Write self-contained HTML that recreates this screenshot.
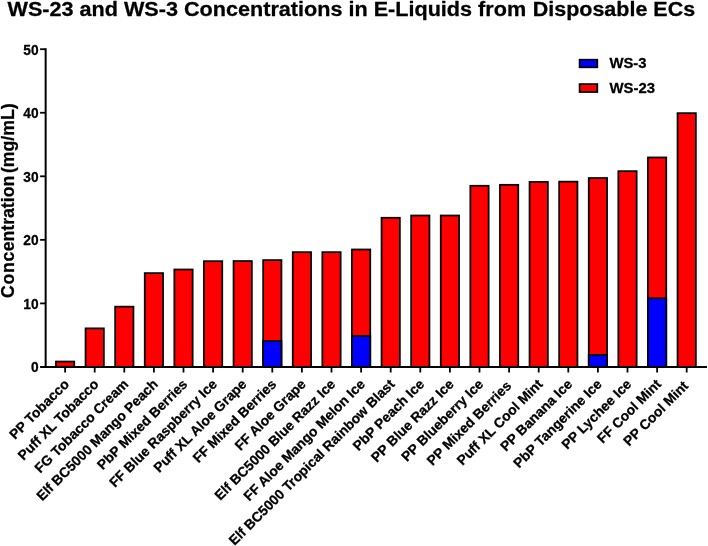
<!DOCTYPE html>
<html><head><meta charset="utf-8"><title>WS-23 and WS-3 Concentrations</title>
<style>html,body{margin:0;padding:0;background:#fff;}body{width:708px;height:546px;overflow:hidden;}svg{display:block;will-change:transform;}text{font-family:"Liberation Sans",sans-serif;font-weight:bold;fill:#000;stroke:#000;stroke-width:0.28px;stroke-linejoin:round;}</style></head><body>
<svg width="708" height="546" viewBox="0 0 708 546">
<rect x="0" y="0" width="708" height="546" fill="#fff"/>
<text x="7.5" y="15.8" font-size="21.1" textLength="518.61" lengthAdjust="spacingAndGlyphs">WS-23 and WS-3 Concentrations in E-Liquids from</text>
<text x="532.71" y="15.8" font-size="21.1" textLength="162.4" lengthAdjust="spacingAndGlyphs">Disposable ECs</text>
<text transform="translate(13.9,298) rotate(-90) scale(0.9716,1)" font-size="18.2" dx="0 0.82 0.62 0.72 0.31">Concentration</text>
<text transform="translate(13.9,173.1) rotate(-90) scale(0.9716,1)" font-size="18.2">(mg/mL)</text>
<rect x="55.95" y="361.53" width="18.3" height="5.27" fill="#ff0000" stroke="#000" stroke-width="1.75"/>
<rect x="85.55" y="328.37" width="18.3" height="38.43" fill="#ff0000" stroke="#000" stroke-width="1.75"/>
<rect x="115.15" y="306.65" width="18.3" height="60.15" fill="#ff0000" stroke="#000" stroke-width="1.75"/>
<rect x="144.75" y="273.11" width="18.3" height="93.69" fill="#ff0000" stroke="#000" stroke-width="1.75"/>
<rect x="174.35" y="269.49" width="18.3" height="97.31" fill="#ff0000" stroke="#000" stroke-width="1.75"/>
<rect x="203.95" y="261.17" width="18.3" height="105.63" fill="#ff0000" stroke="#000" stroke-width="1.75"/>
<rect x="233.55" y="261.04" width="18.3" height="105.76" fill="#ff0000" stroke="#000" stroke-width="1.75"/>
<rect x="263.15" y="260.09" width="18.3" height="106.71" fill="#ff0000" stroke="#000" stroke-width="1.75"/>
<rect x="263.15" y="341.01" width="18.3" height="25.79" fill="#0000ff" stroke="#000" stroke-width="1.75"/>
<rect x="292.75" y="252.15" width="18.3" height="114.65" fill="#ff0000" stroke="#000" stroke-width="1.75"/>
<rect x="322.35" y="252.15" width="18.3" height="114.65" fill="#ff0000" stroke="#000" stroke-width="1.75"/>
<rect x="351.95" y="249.48" width="18.3" height="117.32" fill="#ff0000" stroke="#000" stroke-width="1.75"/>
<rect x="351.95" y="335.93" width="18.3" height="30.87" fill="#0000ff" stroke="#000" stroke-width="1.75"/>
<rect x="381.55" y="217.78" width="18.3" height="149.02" fill="#ff0000" stroke="#000" stroke-width="1.75"/>
<rect x="411.15" y="215.5" width="18.3" height="151.3" fill="#ff0000" stroke="#000" stroke-width="1.75"/>
<rect x="440.75" y="215.5" width="18.3" height="151.3" fill="#ff0000" stroke="#000" stroke-width="1.75"/>
<rect x="470.35" y="185.77" width="18.3" height="181.03" fill="#ff0000" stroke="#000" stroke-width="1.75"/>
<rect x="499.95" y="184.82" width="18.3" height="181.98" fill="#ff0000" stroke="#000" stroke-width="1.75"/>
<rect x="529.55" y="181.96" width="18.3" height="184.84" fill="#ff0000" stroke="#000" stroke-width="1.75"/>
<rect x="559.15" y="181.64" width="18.3" height="185.16" fill="#ff0000" stroke="#000" stroke-width="1.75"/>
<rect x="588.75" y="178.02" width="18.3" height="188.78" fill="#ff0000" stroke="#000" stroke-width="1.75"/>
<rect x="588.75" y="354.86" width="18.3" height="11.94" fill="#0000ff" stroke="#000" stroke-width="1.75"/>
<rect x="618.35" y="171.16" width="18.3" height="195.64" fill="#ff0000" stroke="#000" stroke-width="1.75"/>
<rect x="647.95" y="157.44" width="18.3" height="209.36" fill="#ff0000" stroke="#000" stroke-width="1.75"/>
<rect x="647.95" y="298.26" width="18.3" height="68.54" fill="#0000ff" stroke="#000" stroke-width="1.75"/>
<rect x="677.55" y="113.16" width="18.3" height="253.64" fill="#ff0000" stroke="#000" stroke-width="1.75"/>
<g stroke="#000" fill="none">
<line x1="45.65" y1="48.3" x2="45.65" y2="367.85" stroke-width="2"/>
<line x1="40.1" y1="366.97" x2="707" y2="366.97" stroke-width="1.95"/>
<line x1="40.1" y1="303.4" x2="45.65" y2="303.4" stroke-width="1.8"/>
<line x1="40.1" y1="239.85" x2="45.65" y2="239.85" stroke-width="1.8"/>
<line x1="40.1" y1="176.3" x2="45.65" y2="176.3" stroke-width="1.8"/>
<line x1="40.1" y1="112.75" x2="45.65" y2="112.75" stroke-width="1.8"/>
<line x1="40.1" y1="49.2" x2="45.65" y2="49.2" stroke-width="1.8"/>
<line x1="65.1" y1="366.95" x2="65.1" y2="372.5" stroke-width="1.8"/>
<line x1="94.7" y1="366.95" x2="94.7" y2="372.5" stroke-width="1.8"/>
<line x1="124.3" y1="366.95" x2="124.3" y2="372.5" stroke-width="1.8"/>
<line x1="153.9" y1="366.95" x2="153.9" y2="372.5" stroke-width="1.8"/>
<line x1="183.5" y1="366.95" x2="183.5" y2="372.5" stroke-width="1.8"/>
<line x1="213.1" y1="366.95" x2="213.1" y2="372.5" stroke-width="1.8"/>
<line x1="242.7" y1="366.95" x2="242.7" y2="372.5" stroke-width="1.8"/>
<line x1="272.3" y1="366.95" x2="272.3" y2="372.5" stroke-width="1.8"/>
<line x1="301.9" y1="366.95" x2="301.9" y2="372.5" stroke-width="1.8"/>
<line x1="331.5" y1="366.95" x2="331.5" y2="372.5" stroke-width="1.8"/>
<line x1="361.1" y1="366.95" x2="361.1" y2="372.5" stroke-width="1.8"/>
<line x1="390.7" y1="366.95" x2="390.7" y2="372.5" stroke-width="1.8"/>
<line x1="420.3" y1="366.95" x2="420.3" y2="372.5" stroke-width="1.8"/>
<line x1="449.9" y1="366.95" x2="449.9" y2="372.5" stroke-width="1.8"/>
<line x1="479.5" y1="366.95" x2="479.5" y2="372.5" stroke-width="1.8"/>
<line x1="509.1" y1="366.95" x2="509.1" y2="372.5" stroke-width="1.8"/>
<line x1="538.7" y1="366.95" x2="538.7" y2="372.5" stroke-width="1.8"/>
<line x1="568.3" y1="366.95" x2="568.3" y2="372.5" stroke-width="1.8"/>
<line x1="597.9" y1="366.95" x2="597.9" y2="372.5" stroke-width="1.8"/>
<line x1="627.5" y1="366.95" x2="627.5" y2="372.5" stroke-width="1.8"/>
<line x1="657.1" y1="366.95" x2="657.1" y2="372.5" stroke-width="1.8"/>
<line x1="686.7" y1="366.95" x2="686.7" y2="372.5" stroke-width="1.8"/>
</g>
<text transform="translate(38.6,372.1) scale(0.935,1)" font-size="14.7" text-anchor="end">0</text>
<text transform="translate(38.6,309.15) scale(0.935,1)" font-size="14.7" text-anchor="end">10</text>
<text transform="translate(38.6,245) scale(0.935,1)" font-size="14.7" text-anchor="end">20</text>
<text transform="translate(38.6,182) scale(0.935,1)" font-size="14.7" text-anchor="end">30</text>
<text transform="translate(38.6,117.9) scale(0.935,1)" font-size="14.7" text-anchor="end">40</text>
<text transform="translate(38.6,54.95) scale(0.935,1)" font-size="14.7" text-anchor="end">50</text>
<text transform="translate(69.9,385) rotate(-45)" font-size="13.8" text-anchor="end">PP Tobacco</text>
<text transform="translate(99.5,385) rotate(-45)" font-size="13.8" text-anchor="end">Puff XL Tobacco</text>
<text transform="translate(129.1,385) rotate(-45)" font-size="13.8" text-anchor="end">FG Tobacco Cream</text>
<text transform="translate(158.7,385) rotate(-45)" font-size="13.8" text-anchor="end">Elf BC5000 Mango Peach</text>
<text transform="translate(188.3,385) rotate(-45)" font-size="13.8" text-anchor="end">PbP Mixed Berries</text>
<text transform="translate(217.9,385) rotate(-45)" font-size="13.8" text-anchor="end">FF Blue Raspberry Ice</text>
<text transform="translate(247.5,385) rotate(-45)" font-size="13.8" text-anchor="end">Puff XL Aloe Grape</text>
<text transform="translate(277.1,385) rotate(-45)" font-size="13.8" text-anchor="end">FF Mixed Berries</text>
<text transform="translate(306.7,385) rotate(-45)" font-size="13.8" text-anchor="end">FF Aloe Grape</text>
<text transform="translate(336.3,385) rotate(-45)" font-size="13.8" text-anchor="end">Elf BC5000 Blue Razz Ice</text>
<text transform="translate(365.9,385) rotate(-45)" font-size="13.8" text-anchor="end">FF Aloe Mango Melon Ice</text>
<text transform="translate(395.5,385) rotate(-45)" font-size="13.8" text-anchor="end">Elf BC5000 Tropical Rainbow Blast</text>
<text transform="translate(425.1,385) rotate(-45)" font-size="13.8" text-anchor="end">PbP Peach Ice</text>
<text transform="translate(454.7,385) rotate(-45)" font-size="13.8" text-anchor="end">PP Blue Razz Ice</text>
<text transform="translate(484.3,385) rotate(-45)" font-size="13.8" text-anchor="end">PP Blueberry Ice</text>
<text transform="translate(512.1,386.6) rotate(-45)" font-size="13.8" text-anchor="end">PP Mixed Berries</text>
<text transform="translate(543.5,385) rotate(-45)" font-size="13.8" text-anchor="end">Puff XL Cool Mint</text>
<text transform="translate(573.1,385) rotate(-45)" font-size="13.8" text-anchor="end">PP Banana Ice</text>
<text transform="translate(602.7,385) rotate(-45)" font-size="13.8" text-anchor="end">PbP Tangerine Ice</text>
<text transform="translate(632.3,385) rotate(-45)" font-size="13.8" text-anchor="end">PP Lychee Ice</text>
<text transform="translate(661.9,385) rotate(-45)" font-size="13.8" text-anchor="end">FF Cool Mint</text>
<text transform="translate(689.1,386.8) rotate(-45)" font-size="13.8" text-anchor="end">PP Cool Mint</text>
<rect x="579.6" y="59.7" width="17.7" height="7.6" fill="#0000ff" stroke="#000" stroke-width="1.75"/>
<rect x="579.6" y="84.1" width="17.7" height="7.9" fill="#ff0000" stroke="#000" stroke-width="1.75"/>
<text x="609.4" y="68.15" font-size="15.5" textLength="37.2" lengthAdjust="spacingAndGlyphs">WS-3</text>
<text x="609.4" y="92.9" font-size="15.5" textLength="45.6" lengthAdjust="spacingAndGlyphs">WS-23</text>
</svg></body></html>
